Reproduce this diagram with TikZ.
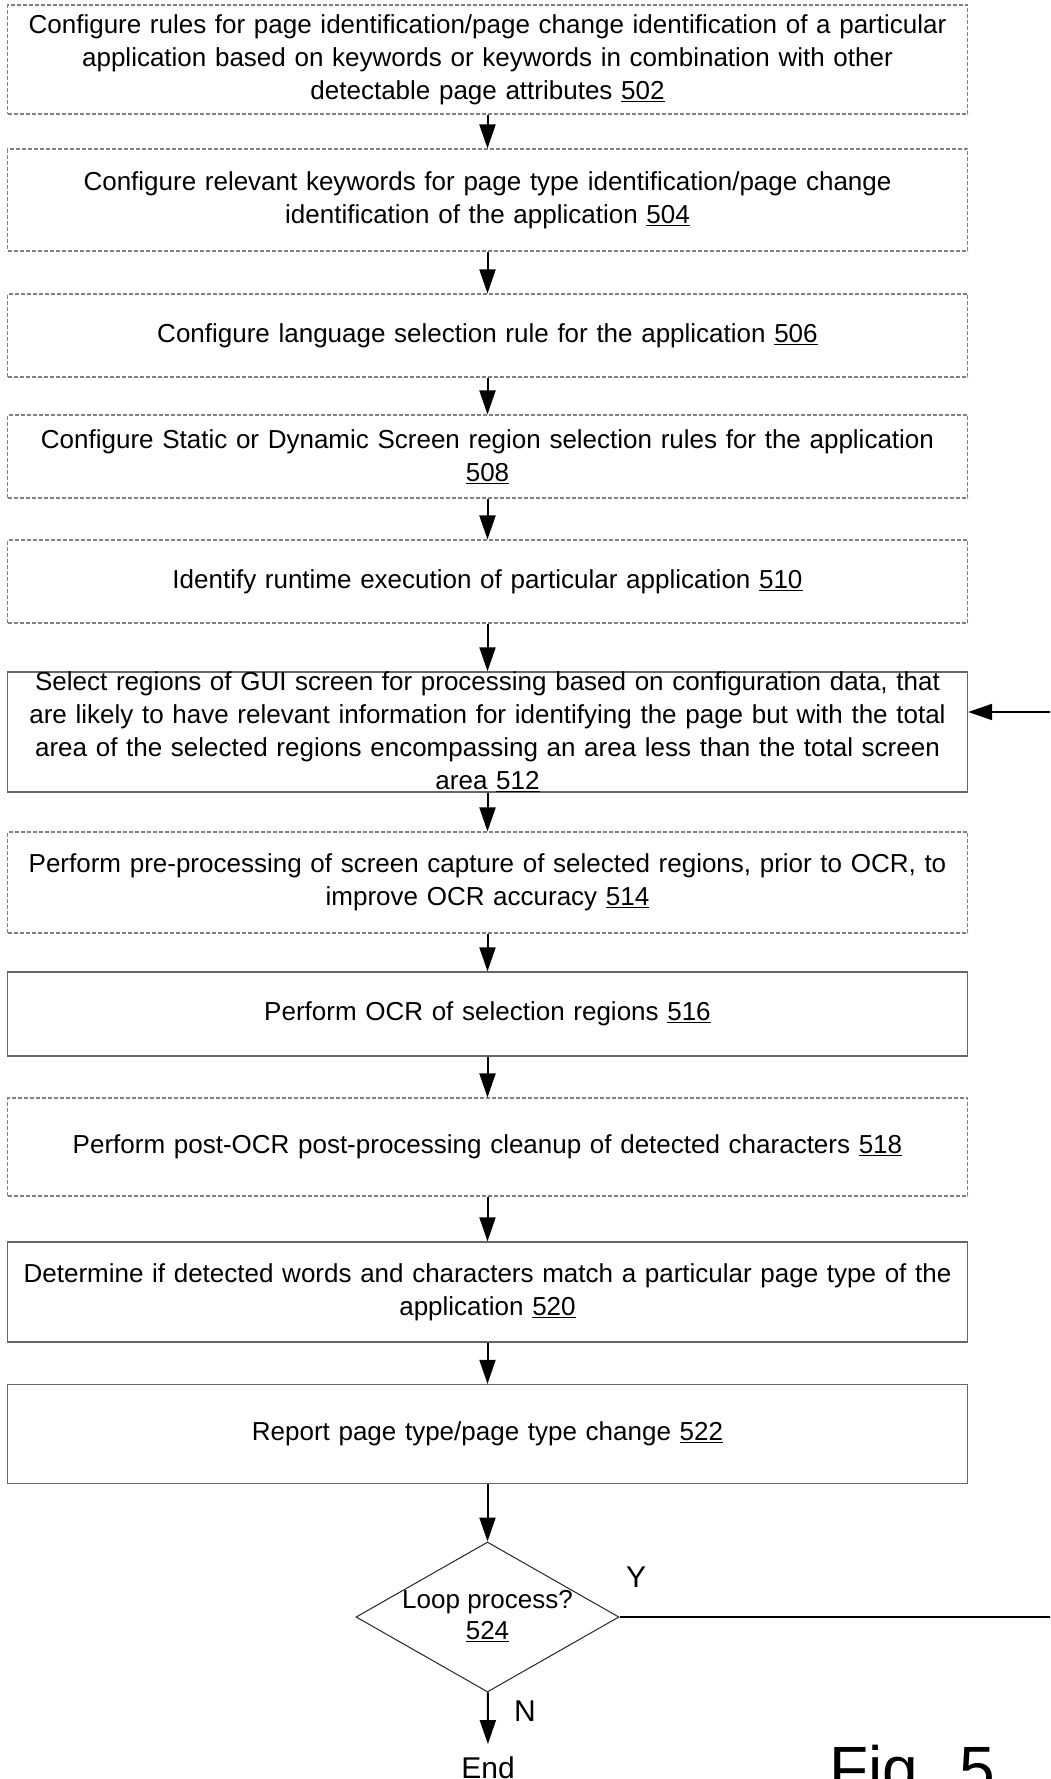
\documentclass[tikz,border=0pt]{standalone}
\usepackage{fontspec}
\setmainfont{Liberation Sans}
\usetikzlibrary{arrows.meta,shapes.geometric}
\newcommand{\bodyfs}{\fontsize{26}{33}\selectfont}
\tikzset{
 box/.style={draw=black!60, line width=1.3pt, minimum width=960pt, minimum height=#1,
   text width=955pt, align=center, inner sep=0pt, font=\bodyfs},
 dbox/.style={box=#1, draw=black!50, line width=1.1pt, dash pattern=on 4pt off 2pt},
 arr/.style={line width=2pt, -{Triangle[length=24pt,width=16pt]}},
 lbl/.style={font=\fontsize{30}{30}\selectfont, inner sep=0pt},
}
\begin{document}
\begin{tikzpicture}[x=1pt,y=-1pt]
\useasboundingbox (0,0) rectangle (1050,1779);
\clip (0,0) rectangle (1050,1779);
\fill[white] (0,0) rectangle (1050,1779);

\node[dbox=109pt] (b502) at (487.5,59.5) {Configure rules for page identification/page change identification of a particular\\ application based on keywords or keywords in combination with other\\ detectable page attributes \underline{502}};
\node[dbox=102pt] (b504) at (487.5,200) {Configure relevant keywords for page type identification/page change\\ identification of the application \underline{504}};
\node[dbox=83pt] (b506) at (487.5,335.5) {Configure language selection rule for the application \underline{506}};
\node[dbox=83pt] (b508) at (487.5,456.5) {Configure Static or Dynamic Screen region selection rules for the application\\ \underline{508}};
\node[dbox=83pt] (b510) at (487.5,581.5) {Identify runtime execution of particular application \underline{510}};
\node[box=120pt] (b512) at (487.5,732) {Select regions of GUI screen for processing based on configuration data, that\\ are likely to have relevant information for identifying the page but with the total\\ area of the selected regions encompassing an area less than the total screen\\ area \underline{512}};
\node[dbox=101pt] (b514) at (487.5,882.5) {Perform pre-processing of screen capture of selected regions, prior to OCR, to\\ improve OCR accuracy \underline{514}};
\node[box=84pt] (b516) at (487.5,1014) {Perform OCR of selection regions \underline{516}};
\node[dbox=98pt] (b518) at (487.5,1147) {Perform post-OCR post-processing cleanup of detected characters \underline{518}};
\node[box=100pt] (b520) at (487.5,1292) {Determine if detected words and characters match a particular page type of the\\ application \underline{520}};
\node[box=99pt] (b522) at (487.5,1434) {Report page type/page type change \underline{522}};

\node[diamond, draw=black!85, line width=1pt, minimum width=263pt, minimum height=150pt,
  inner sep=0pt] (d524) at (487.5,1617) {};
\node[align=center, inner sep=0pt, font=\fontsize{26}{31}\selectfont] (d524t) at (487.5,1616)
  {Loop process?\\ \underline{524}};

\node[lbl, anchor=base] (end) at (488,1778) {End};
\node[lbl] (ylbl) at (636,1577) {Y};
\node[lbl] (nlbl) at (525,1711) {N};
\node[font=\fontsize{64}{64}\selectfont, anchor=base west, inner sep=0pt] (fig) at (829,1791) {Fig. 5};

\draw[arr] (b502) -- (b504);
\draw[arr] (b504) -- (b506);
\draw[arr] (b506) -- (b508);
\draw[arr] (b508) -- (b510);
\draw[arr] (b510) -- (b512);
\draw[arr] (b512) -- (b514);
\draw[arr] (b514) -- (b516);
\draw[arr] (b516) -- (b518);
\draw[arr] (b518) -- (b520);
\draw[arr] (b520) -- (b522);
\draw[arr] (b522) -- (d524);
\draw[arr, shorten >=12pt] (d524) -- (end);

\coordinate (lp1) at (1060,1617);
\coordinate (lp2) at (1060,712);
\draw[line width=2pt] (d524.east) -- (lp1) -- (lp2);
\draw[arr] (lp2) -- (lp2 -| b512.east);
\end{tikzpicture}
\end{document}
